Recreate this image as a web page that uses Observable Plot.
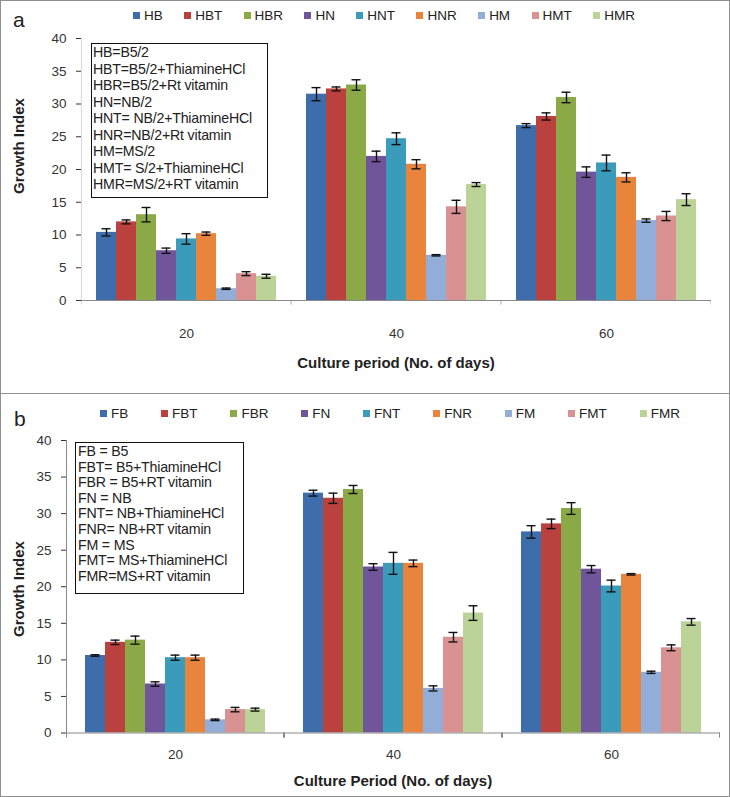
<!DOCTYPE html>
<html><head><meta charset="utf-8">
<script src="https://cdn.jsdelivr.net/npm/d3@7"></script>
<script src="https://cdn.jsdelivr.net/npm/@observablehq/plot@0.6"></script>
<style>
body{margin:0;background:#fff;}
#root{position:relative;width:730px;height:797px;overflow:hidden;font-family:"Liberation Sans",Arial,sans-serif;color:#222;}
.panel{position:absolute;left:0;width:728px;border:1px solid #8f8f8f;}
.plot{position:absolute;left:0;}
.letter{position:absolute;font-size:21px;line-height:1;}
.legend{position:absolute;display:flex;justify-content:space-between;align-items:center;font-size:13.5px;height:16px;}
.legend span.item{display:flex;align-items:center;}
.legend i{display:inline-block;width:7px;height:7px;margin-right:4px;}
.box{position:absolute;border:1.4px solid #111;background:#fff;box-sizing:border-box;white-space:pre;font-size:14.2px;letter-spacing:-0.2px;}
.ytitle{position:absolute;font-weight:bold;font-size:15px;transform:translate(-50%,-50%) rotate(-90deg);white-space:nowrap;}
.xtitle{position:absolute;font-weight:bold;transform:translate(-50%,-50%);white-space:nowrap;font-family:"Liberation Sans Narrow","Liberation Sans",Arial;font-size:15px;}
</style></head><body><div id="root"></div>
<script>
// ---- data ----
const periods = [20, 40, 60];
const yTicks = [0, 5, 10, 15, 20, 25, 30, 35, 40];
const palette = ["#3D6DAA","#BA413E","#8BAA47","#71559A","#3A9CBA","#E9843C","#92ADD8","#D99291","#BCD398"];

const seriesA = ["HB","HBT","HBR","HN","HNT","HNR","HM","HMT","HMR"];
const growthA20 = [10.4, 12.0, 13.1, 7.6, 9.4, 10.2, 1.8, 4.1, 3.7];
const growthA40 = [31.5, 32.3, 32.9, 22.0, 24.7, 20.8, 6.9, 14.3, 17.7];
const growthA60 = [26.7, 28.1, 31.0, 19.6, 21.0, 18.8, 12.2, 12.9, 15.4];
const errA20 = [0.55, 0.3, 1.1, 0.4, 0.8, 0.25, 0.1, 0.3, 0.3];
const errA40 = [1.0, 0.3, 0.8, 0.8, 0.9, 0.7, 0.1, 1.0, 0.3];
const errA60 = [0.3, 0.55, 0.8, 0.8, 1.2, 0.7, 0.25, 0.7, 0.9];
const notesA = ["HB=B5/2","HBT=B5/2+ThiamineHCl","HBR=B5/2+Rt vitamin","HN=NB/2","HNT= NB/2+ThiamineHCl","HNR=NB/2+Rt vitamin","HM=MS/2","HMT= S/2+ThiamineHCl","HMR=MS/2+RT vitamin"];

const seriesB = ["FB","FBT","FBR","FN","FNT","FNR","FM","FMT","FMR"];
const growthB20 = [10.6, 12.4, 12.7, 6.7, 10.3, 10.3, 1.8, 3.2, 3.2];
const growthB40 = [32.8, 32.1, 33.3, 22.7, 23.2, 23.2, 6.1, 13.1, 16.4];
const growthB60 = [27.5, 28.6, 30.7, 22.4, 20.1, 21.7, 8.3, 11.65, 15.2];
const errB20 = [0.1, 0.3, 0.55, 0.3, 0.35, 0.35, 0.1, 0.3, 0.2];
const errB40 = [0.4, 0.7, 0.55, 0.45, 1.5, 0.45, 0.35, 0.65, 1.0];
const errB60 = [0.85, 0.65, 0.8, 0.5, 0.8, 0.1, 0.15, 0.4, 0.45];
const notesB = ["FB = B5","FBT= B5+ThiamineHCl","FBR = B5+RT vitamin","FN = NB","FNT= NB+ThiamineHCl","FNR= NB+RT vitamin","FM = MS","FMT= MS+ThiamineHCl","FMR=MS+RT vitamin"];

// ---- build ----
function rowsFor(series, vals, errs) {
  const out = [];
  periods.forEach((p, pi) => series.forEach((s, si) => out.push({period: p, series: s, value: vals[pi][si], err: errs[pi][si]})));
  return out;
}
const axisColor = "#8a8a8a";
function chart(series, rows, o) {
  const fw = (730 - o.ml - o.mr) / 3;
  return Plot.plot({
    width: 730, height: o.h,
    marginTop: o.mt, marginBottom: o.mb, marginLeft: o.ml, marginRight: o.mr,
    style: {fontFamily: "'Liberation Sans', Arial, sans-serif", fontSize: "13.5px", color: "#333", background: "transparent", overflow: "visible"},
    fx: {domain: periods, padding: 0, label: null, tickSize: 0, tickPadding: o.fxPad, axis: "bottom"},
    x: {domain: series, paddingInner: 0, paddingOuter: 0.72, axis: null},
    y: {domain: [0, 40], ticks: yTicks, tickSize: 5, tickPadding: 10, label: null},
    color: {domain: series, range: palette},
    marks: [
      Plot.barY(rows, {fx: "period", x: "series", y: "value", fill: "series"}),
      Plot.ruleX(rows, {fx: "period", x: "series", y1: d => d.value - d.err, y2: d => d.value + d.err, stroke: "#111", strokeWidth: 1.4}),
      Plot.tickY(rows, {fx: "period", x: "series", y: d => d.value - d.err, stroke: "#111", strokeWidth: 1.4, insetLeft: 5.5, insetRight: 5.5}),
      Plot.tickY(rows, {fx: "period", x: "series", y: d => d.value + d.err, stroke: "#111", strokeWidth: 1.4, insetLeft: 5.5, insetRight: 5.5}),
      Plot.ruleY([0], {stroke: axisColor, strokeWidth: 1.2}),
      Plot.rect([0], {y1: 0, y2: -0.7, insetRight: fw - 1, fill: axisColor}),
      Plot.rect([0], {y1: 0, y2: -0.7, insetLeft: fw - 1, fill: axisColor}),
      Plot.rect([periods[0]], {fx: d => d, y1: 0, y2: 40, insetRight: fw - 1, fill: axisColor})
    ]
  });
}

const root = document.getElementById("root");
function panel(top, h) { const d = document.createElement("div"); d.className = "panel"; d.style.top = top + "px"; d.style.height = (h - 2) + "px"; root.appendChild(d); }
function add(cls, css, text) { const d = document.createElement("div"); d.className = cls; Object.assign(d.style, css); if (text != null) d.textContent = text; root.appendChild(d); return d; }
function legend(series, css) {
  const l = add("legend", css);
  series.forEach((s, i) => { const it = document.createElement("span"); it.className = "item"; const sw = document.createElement("i"); sw.style.background = palette[i]; it.appendChild(sw); it.appendChild(document.createTextNode(s)); l.appendChild(it); });
}

// Panel a
panel(0, 394);
const svgA = chart(seriesA, rowsFor(seriesA, [growthA20, growthA40, growthA60], [errA20, errA40, errA60]), {h: 393, mt: 38, mb: 93, ml: 80, mr: 18, fxPad: 28});
svgA.classList.add("plot"); svgA.style.top = "0px"; root.appendChild(svgA);
add("letter", {left: "13px", top: "9px"}, "a");
legend(seriesA, {left: "133px", width: "502px", top: "7px"});
add("box", {left: "91px", top: "43px", width: "177px", height: "155px", lineHeight: "16.5px", paddingLeft: "1px", paddingTop: "0px"}, notesA.join("\n"));
add("ytitle", {left: "18px", top: "146px"}, "Growth Index");
add("xtitle", {left: "396px", top: "362px"}, "Culture period (No. of days)");

// Panel b
panel(393, 404);
const svgB = chart(seriesB, rowsFor(seriesB, [growthB20, growthB40, growthB60], [errB20, errB40, errB60]), {h: 404, mt: 47, mb: 64.5, ml: 66, mr: 10, fxPad: 16});
svgB.classList.add("plot"); svgB.style.top = "393px"; root.appendChild(svgB);
add("letter", {left: "14px", top: "408px"}, "b");
legend(seriesB, {left: "100px", width: "580px", top: "405px"});
add("box", {left: "75px", top: "442px", width: "169px", height: "152px", lineHeight: "15.6px", paddingLeft: "2px", paddingTop: "1px"}, notesB.join("\n"));
add("ytitle", {left: "18px", top: "589px"}, "Growth Index");
add("xtitle", {left: "393px", top: "780px"}, "Culture Period (No. of days)");
</script></body></html>
